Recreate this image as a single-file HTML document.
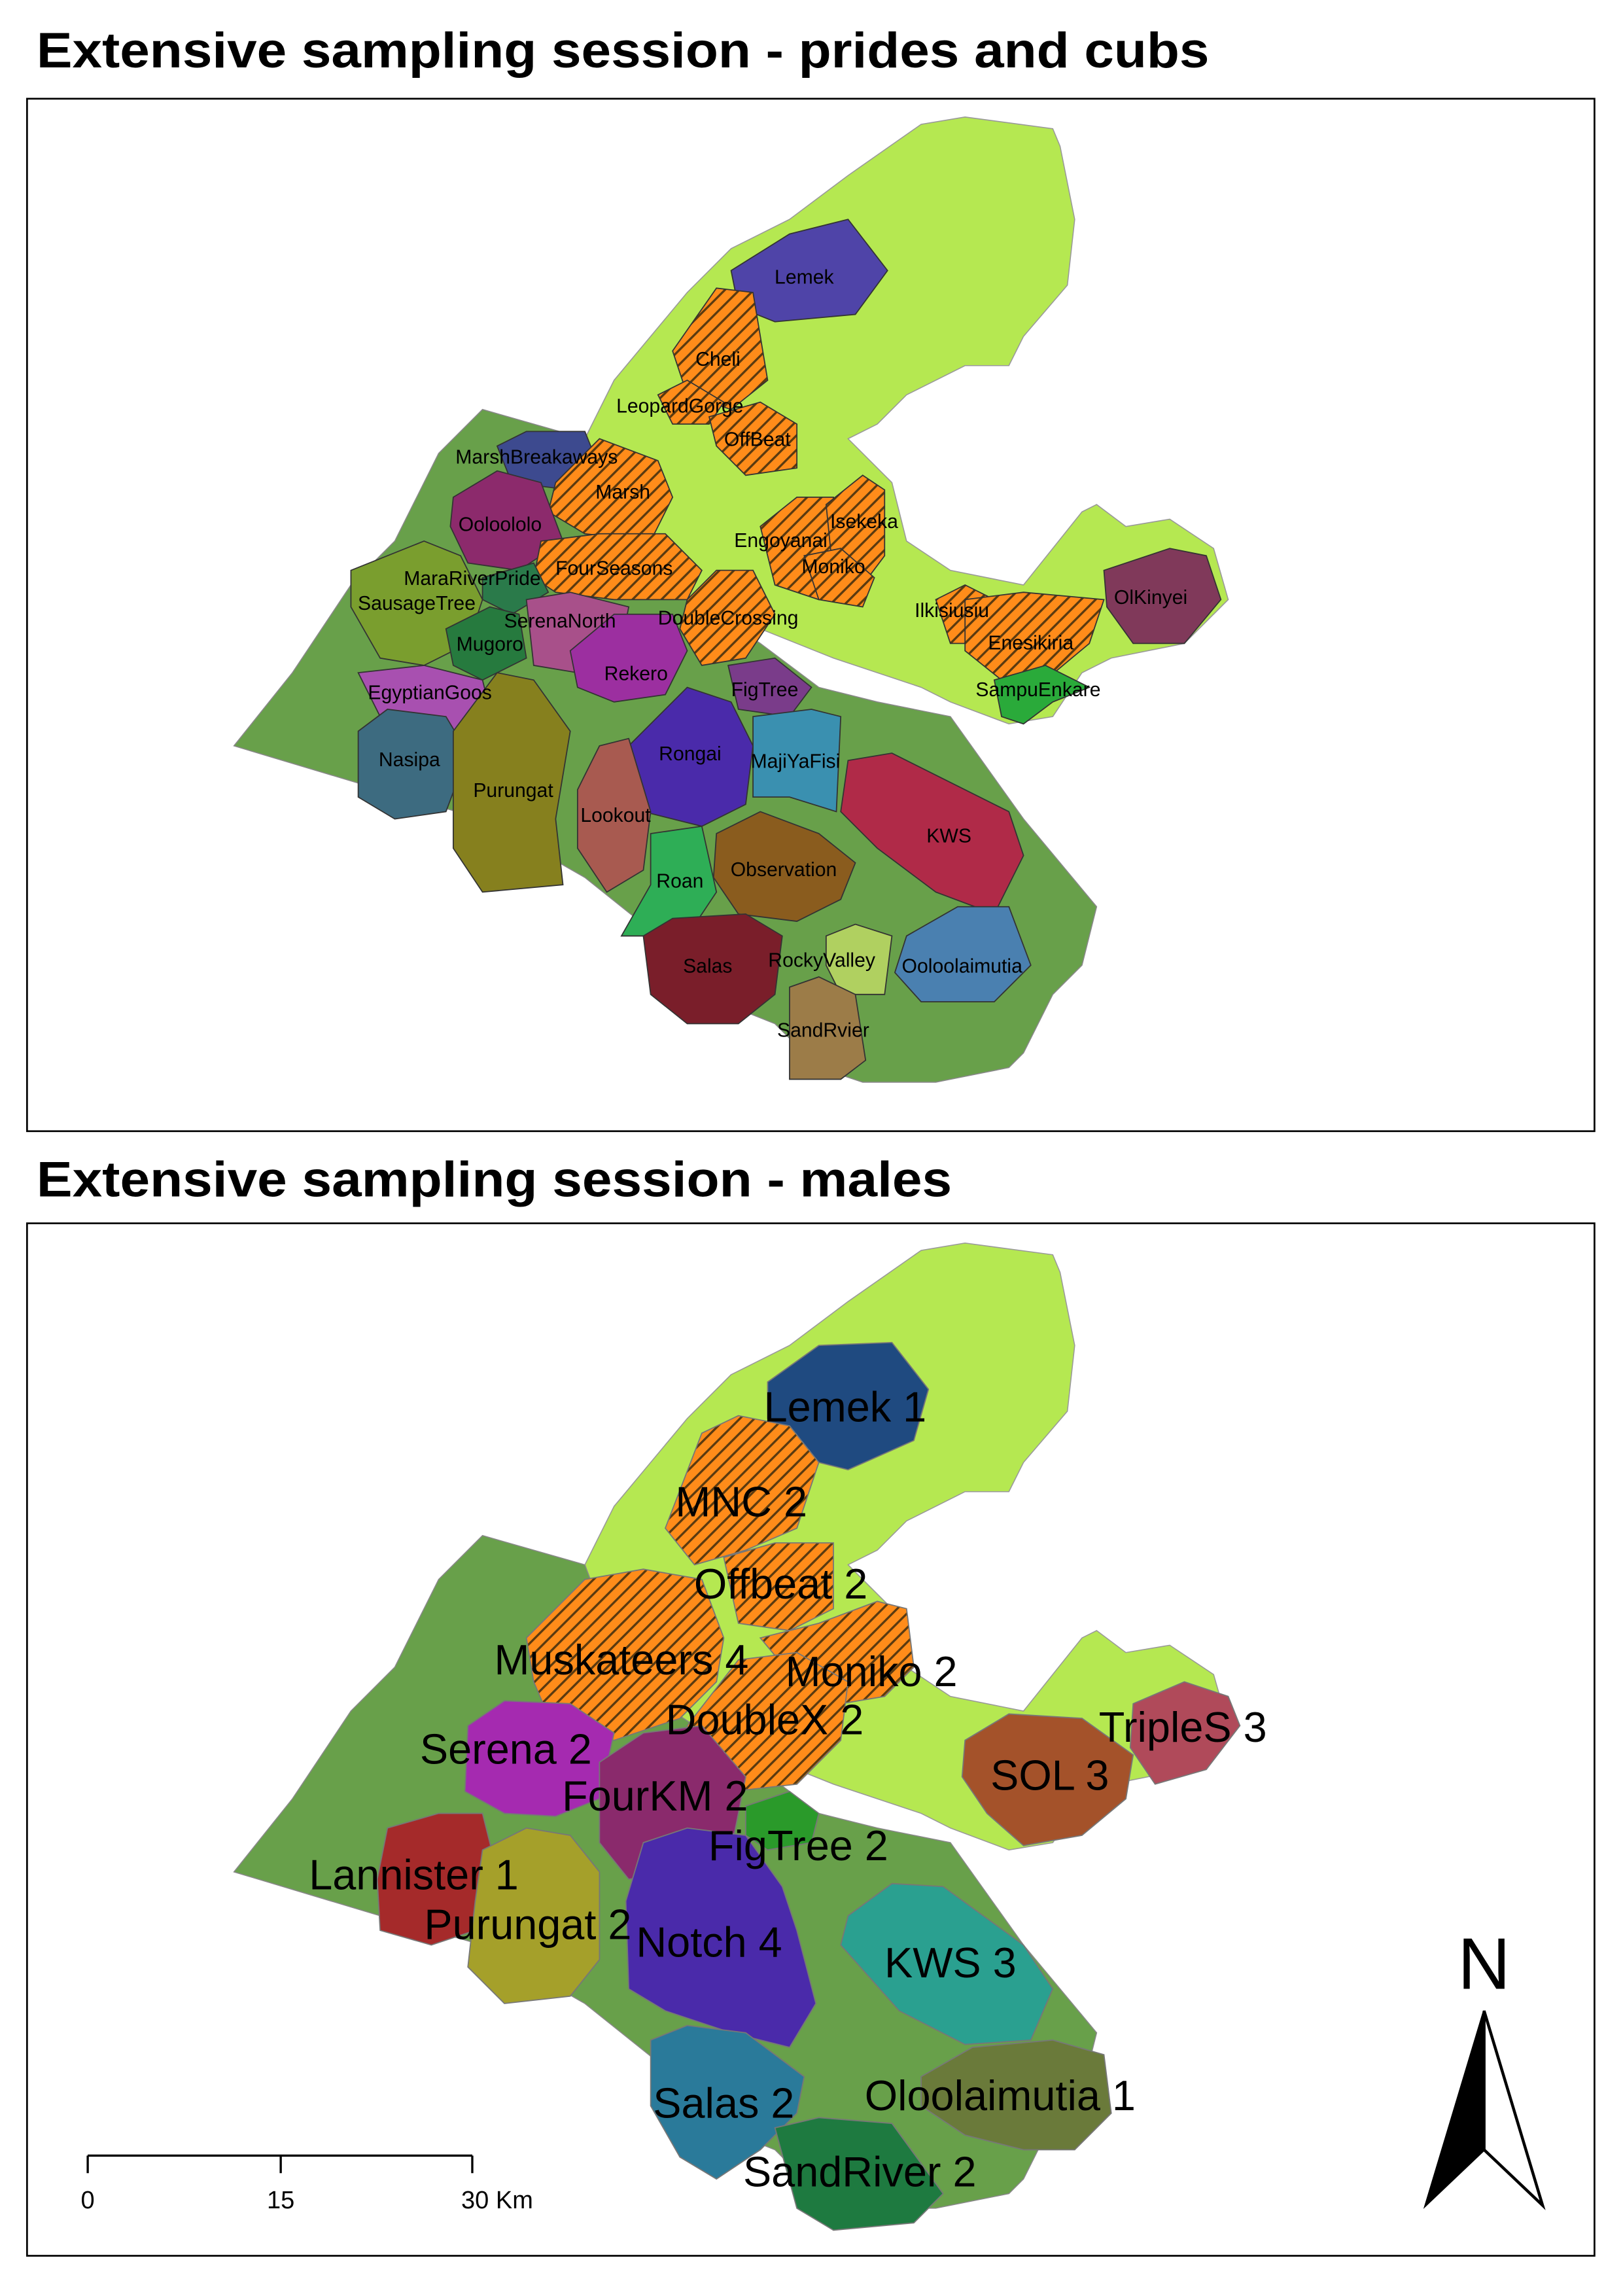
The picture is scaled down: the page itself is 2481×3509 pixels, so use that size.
<!DOCTYPE html>
<html><head><meta charset="utf-8"><style>
html,body{margin:0;padding:0;background:#fff}
svg{display:block}
text{font-family:"Liberation Sans",sans-serif}
</style></head><body>
<svg width="2481" height="3509" viewBox="0 0 1110 1570" preserveAspectRatio="none">
<defs>
<pattern id="hatch" patternUnits="userSpaceOnUse" width="7" height="7" patternTransform="rotate(45)">
<rect width="7" height="7" fill="#ff8c1a"/><rect width="1.5" height="7" fill="#5a3a10"/>
</pattern>
</defs>
<rect width="1110" height="1570" fill="#fff"/>

<!-- TOP PANEL -->
<text x="25" y="46" font-size="34" font-weight="bold" textLength="802" lengthAdjust="spacingAndGlyphs">Extensive sampling session - prides and cubs</text>
<rect x="18.5" y="67.5" width="1072" height="706" fill="none" stroke="#000" stroke-width="1.2"/>
<g>
<polygon fill="#b5e851" stroke="#999" stroke-width="0.7" points="500,170 540,150 580,120 630,85 660,80 720,88 725,100 735,150 730,195 700,230 690,250 660,250 620,270 600,290 580,300 610,330 620,370 650,390 700,400 740,350 750,345 770,360 800,355 830,375 840,410 810,440 760,450 740,460 720,490 690,495 650,480 630,470 570,450 520,430 480,420 420,410 400,300 420,260 470,200"/>
<polygon fill="#68a04a" stroke="#888" stroke-width="0.7" points="160,510 200,460 240,400 270,370 300,310 330,280 400,300 430,380 520,440 560,470 600,480 650,490 700,560 750,620 740,660 720,680 700,720 690,730 640,740 590,740 560,730 530,700 480,680 450,640 400,600 330,560 260,540"/>
<g stroke="#333" stroke-width="0.8">
<polygon fill="#4f44a8" points="500,185 540,160 580,150 607,185 585,215 530,220 505,210"/>
<polygon fill="url(#hatch)" points="460,240 490,197 515,200 525,260 500,280 470,270"/>
<polygon fill="url(#hatch)" points="450,270 470,260 495,275 485,290 460,290"/>
<polygon fill="url(#hatch)" points="485,285 520,275 545,290 545,320 510,325 490,305"/>
<polygon fill="#3d4a8f" points="340,305 360,295 400,295 410,320 390,335 350,330"/>
<polygon fill="url(#hatch)" points="380,330 410,300 450,315 460,340 445,370 400,365 375,350"/>
<polygon fill="#8c2a6c" points="310,340 340,322 370,330 385,370 355,390 320,385 308,360"/>
<polygon fill="url(#hatch)" points="370,370 410,365 455,365 480,390 470,410 420,410 380,405 365,395"/>
<polygon fill="#7a9e2e" points="240,390 290,370 315,380 330,410 320,440 290,455 260,450 240,415"/>
<polygon fill="#2a7a4a" points="330,395 365,385 375,405 350,420 330,410"/>
<polygon fill="#a8508a" points="360,410 390,405 430,415 425,440 395,460 365,455"/>
<polygon fill="#267a3e" points="305,430 335,415 355,420 360,450 330,465 310,455"/>
<polygon fill="url(#hatch)" points="470,410 490,390 515,390 530,420 510,450 480,455 465,430"/>
<polygon fill="#9c2fa0" points="390,445 420,420 460,420 470,445 455,475 420,480 395,470"/>
<polygon fill="#7a3c8a" points="498,455 530,450 555,470 540,490 505,485"/>
<polygon fill="#a850b0" points="245,460 290,455 330,465 335,485 310,500 260,490"/>
<polygon fill="#3d6b80" points="245,500 265,485 305,490 320,515 305,555 270,560 245,545"/>
<polygon fill="#86801e" points="310,500 340,460 365,465 390,500 380,560 385,605 330,610 310,580"/>
<polygon fill="#4a2aaa" points="430,510 470,470 500,480 515,510 510,550 480,565 440,555"/>
<polygon fill="#3a90b0" points="515,490 555,485 575,490 572,555 540,545 515,545"/>
<polygon fill="#a85a50" points="395,540 410,510 430,505 445,555 440,595 415,610 395,580"/>
<polygon fill="#b02a48" points="580,520 610,515 690,555 700,585 680,625 640,610 600,580 575,555"/>
<polygon fill="#2eae56" points="445,570 480,565 490,610 470,640 425,640 445,605"/>
<polygon fill="#8a5c1e" points="490,570 520,555 560,570 585,590 575,615 545,630 505,625 488,600"/>
<polygon fill="#7a1e2a" points="440,640 460,628 510,625 535,640 530,680 505,700 470,700 445,680"/>
<polygon fill="#b0d060" points="565,640 585,632 610,640 605,680 575,680 565,660"/>
<polygon fill="#4a80b0" points="620,640 655,620 690,620 705,660 680,685 630,685 612,665"/>
<polygon fill="#9c7c48" points="540,675 560,668 585,680 592,725 575,738 540,738"/>
<polygon fill="url(#hatch)" points="520,360 545,340 570,340 575,380 560,410 530,400"/>
<polygon fill="url(#hatch)" points="565,345 590,325 605,335 605,380 590,400 570,395"/>
<polygon fill="url(#hatch)" points="550,380 575,375 598,395 590,415 560,410"/>
<polygon fill="url(#hatch)" points="640,410 660,400 680,410 675,440 650,440"/>
<polygon fill="url(#hatch)" points="660,410 700,405 755,410 745,440 715,465 685,465 660,445"/>
<polygon fill="#80395a" points="755,390 800,375 825,380 835,410 810,440 775,440 757,415"/>
<polygon fill="#2aaa3a" points="680,465 715,455 745,470 720,480 700,495 685,490"/>
</g>
<g font-size="13.5" fill="#000" text-anchor="middle">
<text x="550" y="194">Lemek</text><text x="491" y="250">Cheli</text><text x="465" y="282">LeopardGorge</text>
<text x="518" y="305">OffBeat</text><text x="367" y="317">MarshBreakaways</text><text x="426" y="341">Marsh</text>
<text x="342" y="363">Ooloololo</text><text x="420" y="393">FourSeasons</text><text x="323" y="400">MaraRiverPride</text>
<text x="285" y="417">SausageTree</text><text x="383" y="429">SerenaNorth</text><text x="498" y="427">DoubleCrossing</text>
<text x="335" y="445">Mugoro</text><text x="435" y="465">Rekero</text><text x="523" y="476">FigTree</text>
<text x="294" y="478">EgyptianGoos</text><text x="280" y="524">Nasipa</text><text x="472" y="520">Rongai</text>
<text x="544" y="525">MajiYaFisi</text><text x="351" y="545">Purungat</text><text x="421" y="562">Lookout</text>
<text x="649" y="576">KWS</text><text x="536" y="599">Observation</text><text x="465" y="607">Roan</text>
<text x="484" y="665">Salas</text><text x="562" y="661">RockyValley</text><text x="658" y="665">Ooloolaimutia</text>
<text x="563" y="709">SandRvier</text><text x="534" y="374">Engoyanai</text><text x="591" y="361">Isekeka</text>
<text x="570" y="392">Moniko</text><text x="651" y="422">Ilkisiusiu</text><text x="705" y="444">Enesikiria</text>
<text x="787" y="413">OlKinyei</text><text x="710" y="476">SampuEnkare</text>
</g>
</g>

<!-- BOTTOM PANEL -->
<text x="25" y="818" font-size="34" font-weight="bold" textLength="626" lengthAdjust="spacingAndGlyphs">Extensive sampling session - males</text>
<rect x="18.5" y="836.5" width="1072" height="706" fill="none" stroke="#000" stroke-width="1.2"/>
<g>
<g transform="translate(0,770)">
<polygon fill="#b5e851" stroke="#999" stroke-width="0.7" points="500,170 540,150 580,120 630,85 660,80 720,88 725,100 735,150 730,195 700,230 690,250 660,250 620,270 600,290 580,300 610,330 620,370 650,390 700,400 740,350 750,345 770,360 800,355 830,375 840,410 810,440 760,450 740,460 720,490 690,495 650,480 630,470 570,450 520,430 480,420 420,410 400,300 420,260 470,200"/>
<polygon fill="#68a04a" stroke="#888" stroke-width="0.7" points="160,510 200,460 240,400 270,370 300,310 330,280 400,300 430,380 520,440 560,470 600,480 650,490 700,560 750,620 740,660 720,680 700,720 690,730 640,740 590,740 560,730 530,700 480,680 450,640 400,600 330,560 260,540"/>
</g>
<g stroke="#777" stroke-width="0.8">
<polygon fill="#1f4a80" points="525,945 560,920 610,918 635,950 625,985 580,1005 540,995 525,970"/>
<polygon fill="url(#hatch)" points="455,1045 480,980 505,968 540,975 560,1000 545,1045 510,1060 475,1070"/>
<polygon fill="url(#hatch)" points="495,1065 530,1055 570,1055 570,1100 540,1115 505,1110"/>
<polygon fill="url(#hatch)" points="360,1120 400,1080 440,1073 480,1080 495,1120 490,1150 465,1175 420,1190 380,1185 365,1150"/>
<polygon fill="url(#hatch)" points="520,1120 560,1110 600,1095 620,1100 625,1140 605,1160 575,1165 545,1150"/>
<polygon fill="url(#hatch)" points="470,1180 505,1135 545,1130 580,1150 575,1190 545,1220 500,1225 475,1210"/>
<polygon fill="#a4522a" points="660,1190 690,1172 740,1175 775,1200 770,1230 740,1255 700,1262 675,1240 658,1215"/>
<polygon fill="#b04a5a" points="775,1165 810,1150 840,1160 848,1180 825,1210 790,1220 773,1195"/>
<polygon fill="#a52ab0" points="320,1180 345,1163 390,1165 420,1185 410,1230 380,1242 345,1240 318,1225"/>
<polygon fill="#8a2a6c" points="410,1205 440,1185 480,1180 510,1215 500,1265 470,1280 430,1285 410,1260"/>
<polygon fill="#2a9a2a" points="510,1235 540,1225 560,1240 555,1260 525,1265 510,1255"/>
<polygon fill="#a52a2a" points="265,1250 300,1240 330,1240 340,1280 325,1320 295,1330 260,1320 258,1285"/>
<polygon fill="#a5a02a" points="330,1265 360,1250 390,1255 410,1280 410,1340 390,1365 345,1370 320,1345 325,1300"/>
<polygon fill="#4a2aaa" points="440,1260 470,1250 510,1255 535,1290 545,1320 558,1370 540,1400 500,1390 455,1375 430,1360 428,1300"/>
<polygon fill="#2aa090" points="580,1310 610,1288 645,1290 700,1330 720,1360 705,1395 660,1398 615,1375 575,1330"/>
<polygon fill="#2a7a9a" points="445,1395 470,1385 510,1390 550,1420 545,1445 520,1470 490,1490 465,1475 445,1440"/>
<polygon fill="#6a7a3a" points="630,1420 665,1400 720,1395 755,1405 760,1445 735,1470 700,1470 660,1460 630,1440"/>
<polygon fill="#1e7a40" points="530,1455 560,1448 610,1452 645,1500 625,1520 570,1525 545,1510"/>
</g>
<g font-size="29" fill="#000" text-anchor="middle">
<text x="578" y="972">Lemek 1</text><text x="507" y="1037">MNC 2</text><text x="534" y="1093">Offbeat 2</text>
<text x="425" y="1145">Muskateers 4</text><text x="596" y="1153">Moniko 2</text><text x="523" y="1186">DoubleX 2</text>
<text x="718" y="1224">SOL 3</text><text x="809" y="1191">TripleS 3</text><text x="346" y="1206">Serena 2</text>
<text x="448" y="1238">FourKM 2</text><text x="546" y="1272">FigTree 2</text><text x="283" y="1292">Lannister 1</text>
<text x="361" y="1326">Purungat 2</text><text x="485" y="1338">Notch 4</text><text x="650" y="1352">KWS 3</text>
<text x="495" y="1448">Salas 2</text><text x="684" y="1443">Oloolaimutia 1</text><text x="588" y="1495">SandRiver 2</text>
</g>
</g>

<g stroke="#000" stroke-width="1.5">
<line x1="60" y1="1474" x2="323" y2="1474"/>
<line x1="60" y1="1474" x2="60" y2="1486"/><line x1="192" y1="1474" x2="192" y2="1486"/><line x1="323" y1="1474" x2="323" y2="1486"/>
</g>
<g font-size="17" fill="#000" text-anchor="middle">
<text x="60" y="1510">0</text><text x="192" y="1510">15</text><text x="340" y="1510">30 Km</text>
</g>
<g>
<text x="1015" y="1360" font-size="50" text-anchor="middle">N</text>
<polygon points="1015,1375 975,1508 1015,1470" fill="#000" stroke="#000" stroke-width="1.5"/>
<polygon points="1015,1375 1055,1508 1015,1470" fill="#fff" stroke="#000" stroke-width="2"/>
</g>
</svg>
</body></html>
